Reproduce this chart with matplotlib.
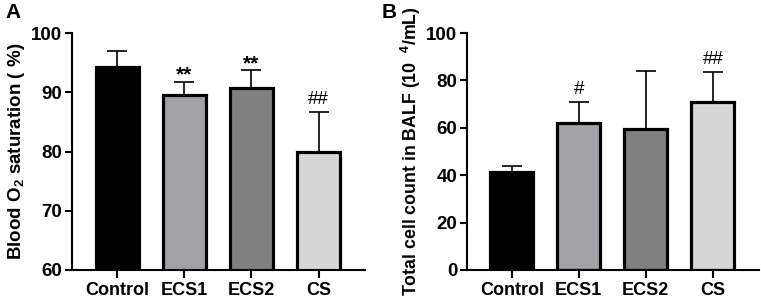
import matplotlib
matplotlib.use("Agg")
import matplotlib.pyplot as plt

plt.rcParams['font.family'] = ['Liberation Sans', 'DejaVu Sans']
plt.rcParams['font.weight'] = 'bold'
plt.rcParams['mathtext.fontset'] = 'custom'
plt.rcParams['mathtext.rm'] = 'Liberation Sans:bold'
plt.rcParams['mathtext.bf'] = 'Liberation Sans:bold'
plt.rcParams['mathtext.default'] = 'bf'

# --- data ---
groups = ['Control', 'ECS1', 'ECS2', 'CS']
bar_colors = ['#000000', '#a2a2a6', '#808080', '#d6d6d6']

o2_mean = [94.3, 89.6, 90.8, 80.0]
o2_sd = [2.6, 2.2, 2.9, 6.6]
o2_marks = ['', '**', '**', '##']

balf_mean = [41.3, 62.0, 59.6, 70.9]
balf_sd = [2.4, 8.9, 24.5, 12.8]
balf_marks = ['', '#', '', '##']

fig = plt.figure(figsize=(7.61, 3.01), dpi=100)
axA = fig.add_axes([0.0946, 0.103, 0.385, 0.787])
axB = fig.add_axes([0.6137, 0.103, 0.3837, 0.787])


def draw_panel(ax, means, sds, marks, ylim, yticks, ylabel, lsize):
    x = list(range(len(groups)))
    ax.errorbar(x, means, yerr=[[0] * len(sds), sds], fmt='none', ecolor='black',
                elinewidth=1.2, capsize=7.5, capthick=1.2, zorder=1)
    ax.bar(x, means, width=0.64, color=bar_colors, edgecolor='black',
           linewidth=2.3, zorder=2)
    for xi, m, s, t in zip(x, means, sds, marks):
        if not t:
            continue
        if '*' in t:
            ax.annotate(t, (xi, m + s), xytext=(0, 5), textcoords='offset points',
                        ha='center', va='center', fontsize=15, fontweight='bold')
        else:
            ax.annotate(t, (xi, m + s), xytext=(0, 9), textcoords='offset points',
                        ha='center', va='center', fontsize=13.5, fontweight='normal')
    ax.set_xlim(-0.67, 3.69)
    ax.set_ylim(*ylim)
    ax.set_yticks(yticks)
    ax.set_xticks(x)
    ax.set_xticklabels(groups)
    for s in ['top', 'right']:
        ax.spines[s].set_visible(False)
    for s in ['left', 'bottom']:
        ax.spines[s].set_linewidth(1.5)
    ax.tick_params(axis='y', width=1.5, length=5, labelsize=13.5, pad=2)
    ax.tick_params(axis='x', width=1.5, length=6, labelsize=13, pad=3)
    ax.set_ylabel(ylabel, fontsize=lsize, fontweight='bold', labelpad=3)


draw_panel(axA, o2_mean, o2_sd, o2_marks, (60, 100), [60, 70, 80, 90, 100],
           'Blood O$_2$ saturation ( %)', 13.5)
draw_panel(axB, balf_mean, balf_sd, balf_marks, (0, 100), [0, 20, 40, 60, 80, 100],
           'Total cell count in BALF (10  $^4$/mL)', 12.8)
axB.yaxis.set_label_coords(-0.15, 0.5)

fig.text(0.007, 0.99, 'A', fontsize=15, fontweight='bold', va='top')
fig.text(0.502, 0.99, 'B', fontsize=15, fontweight='bold', va='top')

fig.savefig('out.png', dpi=100)
